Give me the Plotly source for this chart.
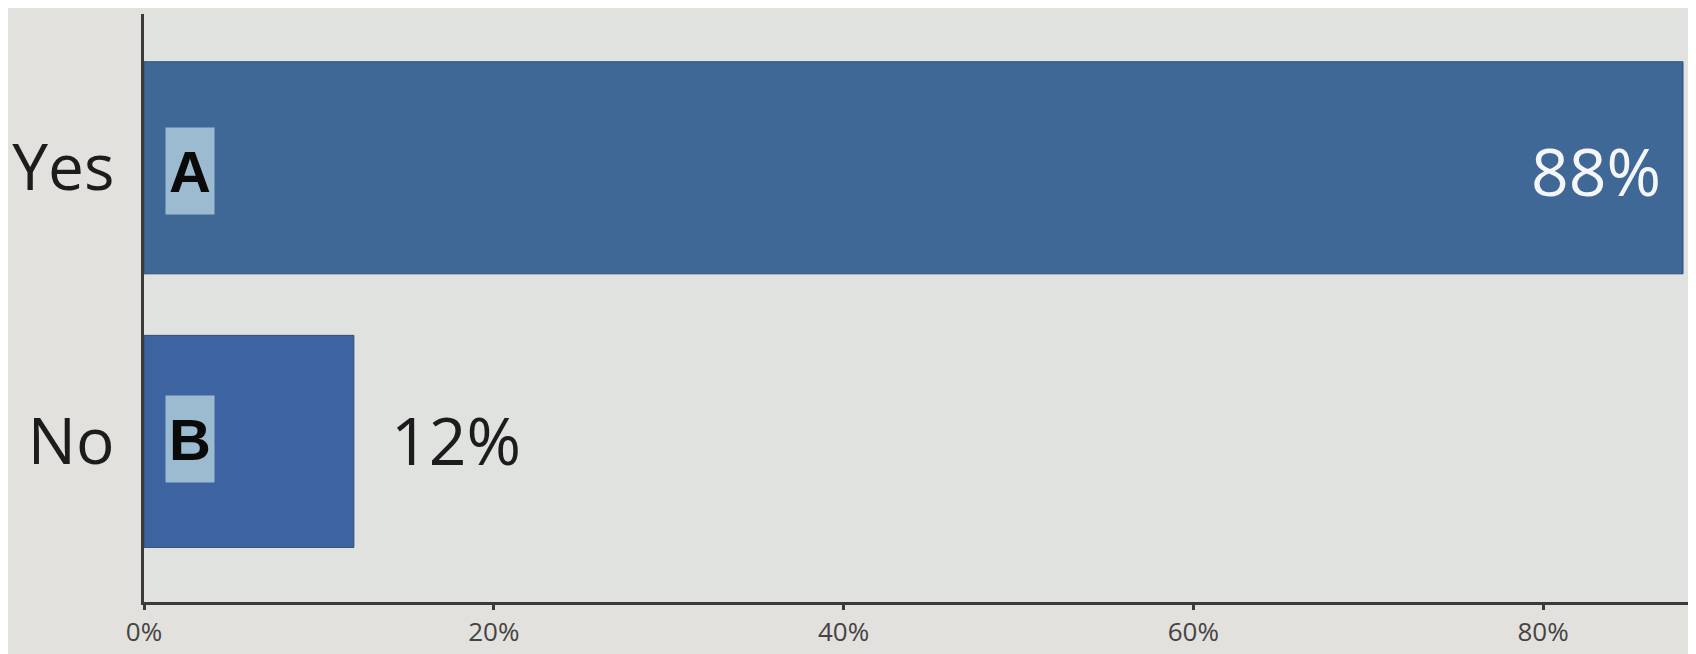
import plotly.graph_objects as go

categories = ["Yes", "No"]
values = [0.88, 0.12]
letters = ["A", "B"]
tick_vals = [0, 0.2, 0.4, 0.6, 0.8]
tick_text = ["0%", "20%", "40%", "60%", "80%"]

bar_colors = ["#3f6896", "#3d64a0"]

fig = go.Figure()
fig.add_trace(go.Bar(
    y=categories, x=values, orientation="h",
    marker=dict(color=bar_colors, line=dict(color="#2d4f7a", width=1)),
    width=0.775, hoverinfo="skip", showlegend=False,
))

annotations = []
for cat, v, letter in zip(categories, values, letters):
    label = f"{round(v * 100)}%"
    if v > 0.5:
        annotations.append(dict(
            x=v, y=cat, xref="x", yref="y", text=label, showarrow=False,
            xanchor="right", xshift=-20, yshift=-2,
            font=dict(family="Open Sans", size=66, color="#f4f6f8"),
        ))
    else:
        annotations.append(dict(
            x=v, y=cat, xref="x", yref="y", text=label, showarrow=False,
            xanchor="left", xshift=35, yshift=2,
            font=dict(family="Open Sans", size=66, color="#1c1c1c"),
        ))
    annotations.append(dict(
        x=0, y=cat, xref="x", yref="y", text=f"<b>{letter}</b>", showarrow=False,
        xanchor="left", xshift=21, yshift=-3 if cat == "Yes" else 2,
        width=48, height=86, borderpad=0, align="center", valign="middle",
        bgcolor="#9dbbd0",
        font=dict(family="Liberation Sans", size=58, color="#0a0a0a"),
    ))

fig.update_layout(
    width=1696, height=654,
    margin=dict(l=136, r=0, t=6, b=60),
    paper_bgcolor="#e3e1dd",
    plot_bgcolor="#dfe2de",
    annotations=annotations,
    xaxis=dict(
        range=[0, 0.892], tickvals=tick_vals, ticktext=tick_text,
        showgrid=False, zeroline=False,
        showline=True, linecolor="#3a3a3a", linewidth=2.5,
        ticks="outside", ticklen=5, tickwidth=2.5, tickcolor="#3a3a3a",
        tickfont=dict(family="Open Sans", size=26, color="#444444"),
        fixedrange=True,
    ),
    yaxis=dict(
        range=[1.587, -0.562], type="category",
        showgrid=False, zeroline=False,
        showline=True, linecolor="#3a3a3a", linewidth=2.5,
        ticks="", ticklabelstandoff=14,
        tickfont=dict(family="Open Sans", size=64, color="#1c1c1c"),
        fixedrange=True,
    ),
)

fig.write_html("out.html")
